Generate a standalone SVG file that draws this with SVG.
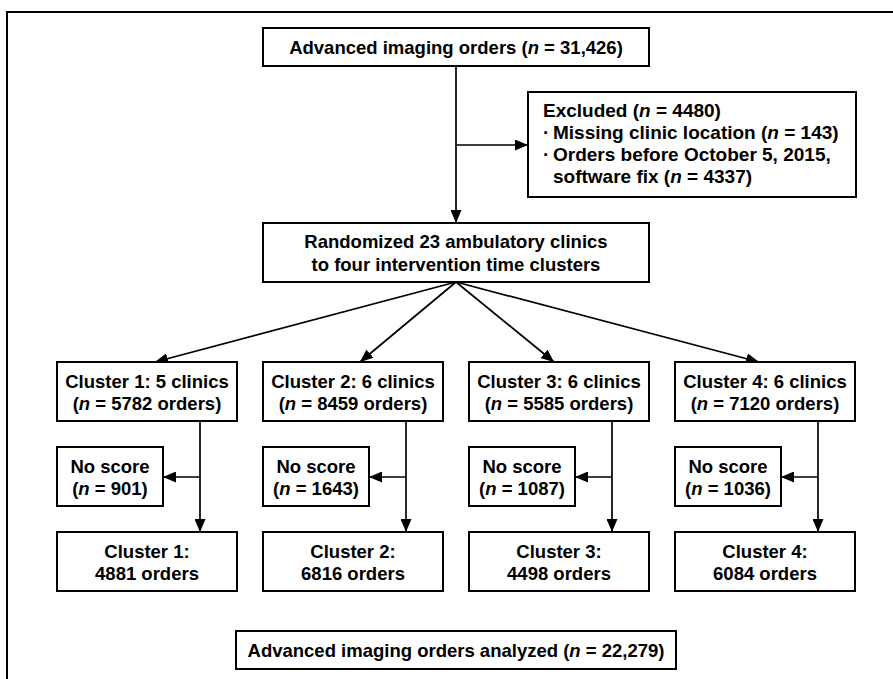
<svg xmlns="http://www.w3.org/2000/svg" width="893" height="679" viewBox="0 0 893 679">
<defs>
<marker id="ah" markerUnits="userSpaceOnUse" markerWidth="13" markerHeight="11" refX="13" refY="5.5" orient="auto">
<path d="M0,0 L13,5.5 L0,11 Z" fill="#000"/>
</marker>
<style>
.box{fill:#fff;stroke:#000;stroke-width:2}
.t{font-family:"Liberation Sans",Arial,sans-serif;font-weight:bold;font-size:18.5px;fill:#000}
.x{font-size:19px}
.c{text-anchor:middle}
.i{font-style:italic}
.ln{fill:none;stroke:#000;stroke-width:1.7}
</style>
</defs>
<rect width="893" height="679" fill="#fff"/>
<path d="M7,679 V12 H893" fill="none" stroke="#000" stroke-width="2"/>

<g id="connectors">
<line class="ln" x1="456" y1="66" x2="456" y2="223" marker-end="url(#ah)"/>
<line class="ln" x1="456" y1="145" x2="528" y2="145" marker-end="url(#ah)"/>
<line class="ln" x1="456" y1="282" x2="155" y2="362" marker-end="url(#ah)"/>
<line class="ln" x1="456" y1="282" x2="360" y2="362" marker-end="url(#ah)"/>
<line class="ln" x1="456" y1="282" x2="554" y2="362" marker-end="url(#ah)"/>
<line class="ln" x1="456" y1="282" x2="759" y2="362" marker-end="url(#ah)"/>
<line class="ln" x1="200" y1="421" x2="200" y2="532" marker-end="url(#ah)"/>
<line class="ln" x1="406" y1="421" x2="406" y2="532" marker-end="url(#ah)"/>
<line class="ln" x1="612" y1="421" x2="612" y2="532" marker-end="url(#ah)"/>
<line class="ln" x1="818" y1="421" x2="818" y2="532" marker-end="url(#ah)"/>
<line class="ln" x1="200" y1="477" x2="163" y2="477" marker-end="url(#ah)"/>
<line class="ln" x1="406" y1="477" x2="369" y2="477" marker-end="url(#ah)"/>
<line class="ln" x1="612" y1="477" x2="575" y2="477" marker-end="url(#ah)"/>
<line class="ln" x1="818" y1="477" x2="781" y2="477" marker-end="url(#ah)"/>
</g>

<g id="n-orders">
<rect class="box" x="263" y="28" width="386" height="38"/>
<text class="t c" x="456" y="54">Advanced imaging orders (<tspan class="i">n</tspan> = 31,426)</text>
</g>

<g id="n-excluded">
<rect class="box" x="528" y="92" width="328" height="105"/>
<text class="t x" x="543" y="117">Excluded (<tspan class="i">n</tspan> = 4480)</text>
<text class="t x" x="543" y="139">·</text>
<text class="t x" x="553" y="139">Missing clinic location (<tspan class="i">n</tspan> = 143)</text>
<text class="t x" x="543" y="161">·</text>
<text class="t x" x="553" y="161">Orders before October 5, 2015,</text>
<text class="t x" x="553" y="183">software fix (<tspan class="i">n</tspan> = 4337)</text>
</g>

<g id="n-randomized">
<rect class="box" x="263" y="223" width="386" height="59"/>
<text class="t c" x="456" y="248">Randomized 23 ambulatory clinics</text>
<text class="t c" x="456" y="271">to four intervention time clusters</text>
</g>

<g id="n-cluster1">
<rect class="box" x="57" y="362" width="180" height="59"/>
<text class="t c" x="147" y="388">Cluster 1: 5 clinics</text>
<text class="t c" x="147" y="410">(<tspan class="i">n</tspan> = 5782 orders)</text>
</g>
<g id="n-cluster2">
<rect class="box" x="263" y="362" width="180" height="59"/>
<text class="t c" x="353" y="388">Cluster 2: 6 clinics</text>
<text class="t c" x="353" y="410">(<tspan class="i">n</tspan> = 8459 orders)</text>
</g>
<g id="n-cluster3">
<rect class="box" x="469" y="362" width="180" height="59"/>
<text class="t c" x="559" y="388">Cluster 3: 6 clinics</text>
<text class="t c" x="559" y="410">(<tspan class="i">n</tspan> = 5585 orders)</text>
</g>
<g id="n-cluster4">
<rect class="box" x="675" y="362" width="180" height="59"/>
<text class="t c" x="765" y="388">Cluster 4: 6 clinics</text>
<text class="t c" x="765" y="410">(<tspan class="i">n</tspan> = 7120 orders)</text>
</g>

<g id="n-noscore1">
<rect class="box" x="57" y="447" width="106" height="59"/>
<text class="t c" x="110" y="473">No score</text>
<text class="t c" x="110" y="495">(<tspan class="i">n</tspan> = 901)</text>
</g>
<g id="n-noscore2">
<rect class="box" x="263" y="447" width="106" height="59"/>
<text class="t c" x="316" y="473">No score</text>
<text class="t c" x="316" y="495">(<tspan class="i">n</tspan> = 1643)</text>
</g>
<g id="n-noscore3">
<rect class="box" x="469" y="447" width="106" height="59"/>
<text class="t c" x="522" y="473">No score</text>
<text class="t c" x="522" y="495">(<tspan class="i">n</tspan> = 1087)</text>
</g>
<g id="n-noscore4">
<rect class="box" x="675" y="447" width="106" height="59"/>
<text class="t c" x="728" y="473">No score</text>
<text class="t c" x="728" y="495">(<tspan class="i">n</tspan> = 1036)</text>
</g>

<g id="n-final1">
<rect class="box" x="57" y="532" width="180" height="59"/>
<text class="t c" x="147" y="558">Cluster 1:</text>
<text class="t c" x="147" y="580">4881 orders</text>
</g>
<g id="n-final2">
<rect class="box" x="263" y="532" width="180" height="59"/>
<text class="t c" x="353" y="558">Cluster 2:</text>
<text class="t c" x="353" y="580">6816 orders</text>
</g>
<g id="n-final3">
<rect class="box" x="469" y="532" width="180" height="59"/>
<text class="t c" x="559" y="558">Cluster 3:</text>
<text class="t c" x="559" y="580">4498 orders</text>
</g>
<g id="n-final4">
<rect class="box" x="675" y="532" width="180" height="59"/>
<text class="t c" x="765" y="558">Cluster 4:</text>
<text class="t c" x="765" y="580">6084 orders</text>
</g>

<g id="n-analyzed">
<rect class="box" x="236" y="631" width="440" height="38"/>
<text class="t c" x="456" y="657">Advanced imaging orders analyzed (<tspan class="i">n</tspan> = 22,279)</text>
</g>
</svg>
